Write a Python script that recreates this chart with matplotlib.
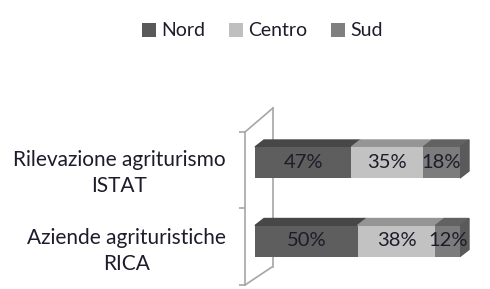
import matplotlib.pyplot as plt
from matplotlib.patches import Patch, Polygon

plt.rcParams['font.family'] = ['Lato', 'DejaVu Sans']

# dati
categorie = ['Rilevazione agriturismo\nISTAT', 'Aziende agrituristiche\nRICA']
nord = [47, 50]
centro = [35, 38]
sud = [18, 12]
serie = ['Nord', 'Centro', 'Sud']

# colori: fronte, sopra, lato
col_front = {'Nord': '#5e5e5e', 'Centro': '#c2c2c2', 'Sud': '#7c7c7c'}
col_top = {'Nord': '#474747', 'Centro': '#959595', 'Sud': '#626262'}
col_side = '#5a5a5a'
col_leg = {'Nord': '#595959', 'Centro': '#bfbfbf', 'Sud': '#7f7f7f'}
txt_col = '#1c1c2c'

W, H = 490, 289
fig = plt.figure(figsize=(W / 100, H / 100), dpi=100)

# assi in pixel: x 0..1 -> 255..460, y 1 -> 162.5, y 0 -> 241
px_x0, px_x1 = 255, 460
sx = px_x1 - px_x0
sy = 78.5
ax_l, ax_r = 245, 478
ax_t, ax_b = 132, 285
ax = fig.add_axes([ax_l / W, (H - ax_b) / H, (ax_r - ax_l) / W, (ax_b - ax_t) / H])
ax.set_xlim((ax_l - px_x0) / sx, (ax_r - px_x0) / sx)
ax.set_ylim((241 - ax_b) / sy, (241 - ax_t) / sy)

pos = [1, 0]
h = 31 / sy
dx, dy = 9 / sx, 7 / sy

# parete 3D (linee grigie)
wall = '#a6a6a6'
y_lo, y_hi = ax.get_ylim()
x_f = ax.get_xlim()[0]
ax.plot([x_f + 28 / sx, x_f + 28 / sx], [y_lo + 18 / sy, y_hi + 24 / sy], color=wall, lw=1.2, clip_on=False, zorder=1)
ax.plot([x_f, x_f + 28 / sx], [y_hi, y_hi + 24 / sy], color=wall, lw=1.2, clip_on=False, zorder=1)
ax.plot([x_f, x_f + 27 / sx], [y_lo, y_lo + 18 / sy], color=wall, lw=1.2, clip_on=False, zorder=1)

left = [0, 0]
for nome, vals in zip(serie, [nord, centro, sud]):
    fr = [v / 100 for v in vals]
    bars = ax.barh(pos, fr, height=h, left=left, color=col_front[nome], zorder=3)
    for b, v in zip(bars, vals):
        x0, y0 = b.get_x(), b.get_y()
        x1, y1 = x0 + b.get_width(), y0 + b.get_height()
        top = Polygon([(x0, y1), (x1, y1), (x1 + dx, y1 + dy), (x0 + dx, y1 + dy)],
                      closed=True, color=col_top[nome], zorder=2, clip_on=False)
        ax.add_patch(top)
        if nome == 'Sud':
            side = Polygon([(x1, y0), (x1 + dx, y0 + dy), (x1 + dx, y1 + dy), (x1, y1)],
                           closed=True, color=col_side, zorder=2, clip_on=False)
            ax.add_patch(side)
        ax.text(x0 + b.get_width() / 2, y0 + b.get_height() / 2, f'{v}%',
                ha='center', va='center', fontsize=14.5, color=txt_col, zorder=4)
    left = [l + f for l, f in zip(left, fr)]

# assi
for s in ['top', 'right', 'bottom']:
    ax.spines[s].set_visible(False)
ax.spines['left'].set_color(wall)
ax.spines['left'].set_linewidth(1.2)
ax.set_xticks([])
ax.set_yticks([y_lo, 0.5 * (pos[0] + pos[1]) - 0.08, y_hi])
ax.set_yticklabels([])
ax.tick_params(axis='y', which='major', length=4, color=wall, width=1.2)

# etichette categorie
for p, c in zip(pos, categorie):
    ax.annotate(c, xy=(0, p - 0.13), xycoords=('axes fraction', 'data'),
                xytext=(-14, 0), textcoords='offset points', ha='right', va='center',
                multialignment='center', linespacing=1.4, fontsize=15, color=txt_col)

handles = [Patch(facecolor=col_leg[s], edgecolor='none') for s in serie]
fig.legend(handles, serie, loc='center', bbox_to_anchor=(0.535, 1 - 31 / H), ncol=3,
           frameon=False, fontsize=14, handlelength=0.75, handleheight=0.75,
           handletextpad=0.25, columnspacing=1.2, labelcolor=txt_col)

fig.savefig('out.png', dpi=100)
